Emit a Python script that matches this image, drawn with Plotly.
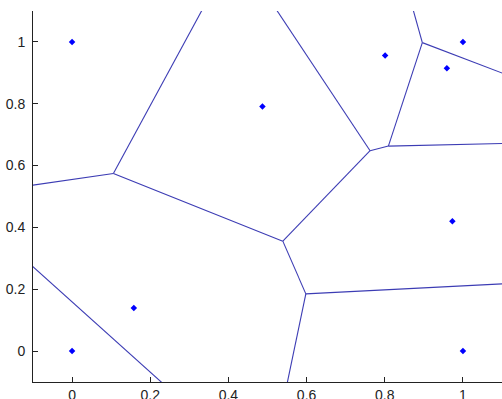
import numpy as np
import plotly.graph_objects as go

# Generator points
pts_x = [0.0, 0.0, 0.158, 0.487, 0.801, 0.959, 1.0, 0.973, 1.0]
pts_y = [0.0, 1.0, 0.139, 0.791, 0.956, 0.915, 1.0, 0.420, 0.0]

x_ticks = [0, 0.2, 0.4, 0.6, 0.8, 1]
y_ticks = [0, 0.2, 0.4, 0.6, 0.8, 1]
x_tick_text = ["0", "0.2", "0.4", "0.6", "0.8", "1"]
y_tick_text = ["0", "0.2", "0.4", "0.6", "0.8", "1"]
x_range = [-0.1, 1.1]
y_range = [-0.1, 1.1]

# Voronoi edges computed from the points (bisector clipped by all half-planes)
P = np.column_stack([pts_x, pts_y])
n = len(P)
ex, ey = [], []
for i in range(n):
    for j in range(i + 1, n):
        m = (P[i] + P[j]) / 2
        d = P[j] - P[i]
        u = np.array([-d[1], d[0]])
        u = u / np.linalg.norm(u)
        lo, hi = -5.0, 5.0
        ok = True
        for k in range(n):
            if k in (i, j):
                continue
            a = P[k] - P[i]
            c = P[k] @ P[k] - P[i] @ P[i]
            coef = 2 * (u @ a)
            rhs = c - 2 * (m @ a)
            if abs(coef) < 1e-12:
                if rhs < 0:
                    ok = False
                    break
                continue
            if coef > 0:
                hi = min(hi, rhs / coef)
            else:
                lo = max(lo, rhs / coef)
        if ok and hi - lo > 1e-9:
            A = m + lo * u
            B = m + hi * u
            ex += [A[0], B[0], None]
            ey += [A[1], B[1], None]

fig = go.Figure()
fig.add_trace(go.Scatter(x=ex, y=ey, mode="lines",
                         line=dict(color="#3c3cb4", width=1.1),
                         hoverinfo="skip"))
fig.add_trace(go.Scatter(x=pts_x, y=pts_y, mode="markers",
                         marker=dict(symbol="diamond", size=5, color="#0000ff")))

axis_common = dict(showgrid=False, zeroline=False, showline=True,
                   linecolor="#222222", linewidth=1, ticks="inside",
                   ticklen=5, tickcolor="#222222", mirror=False,
                   automargin=False,
                   tickfont=dict(family="Liberation Sans, Arial", size=14, color="#222222"))
fig.update_xaxes(range=x_range, tickvals=x_ticks, ticktext=x_tick_text,
                 ticklabelstandoff=0, **axis_common)
fig.update_yaxes(range=y_range, tickvals=y_ticks, ticktext=y_tick_text,
                 ticklabelstandoff=4, **axis_common)
fig.update_layout(width=502, height=399, showlegend=False,
                  margin=dict(l=33, r=0, t=11, b=17),
                  paper_bgcolor="white", plot_bgcolor="white")
fig.write_html("out.html", config={"displayModeBar": False},
               post_script="document.body.style.margin='0';document.body.style.overflow='hidden';")
